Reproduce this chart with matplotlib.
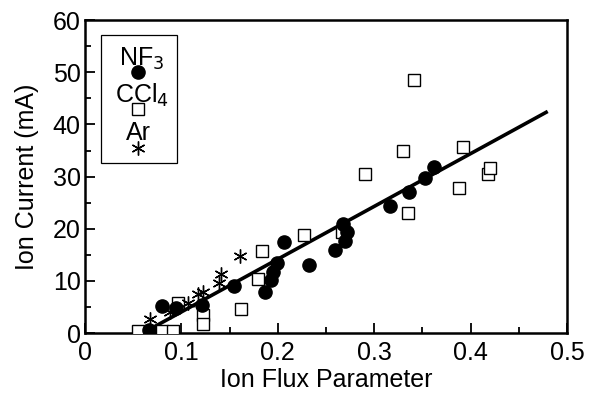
import numpy as np
import matplotlib
matplotlib.use("Agg")
from matplotlib import pyplot as plt
from matplotlib.patches import Rectangle
from matplotlib.ticker import MultipleLocator, FuncFormatter

# NF3 ion current vs ion flux parameter
nf3_x = [0.066, 0.080, 0.094, 0.121, 0.155, 0.187, 0.193, 0.195, 0.199, 0.206,
         0.232, 0.259, 0.268, 0.272, 0.270, 0.316, 0.336, 0.353, 0.362]
nf3_y = [0.5, 5.2, 4.8, 5.4, 9.1, 7.9, 10.1, 11.8, 13.4, 17.5,
         13.1, 15.9, 21.0, 19.3, 17.6, 24.3, 27.0, 29.8, 31.9]

# CCl4
ccl4_x = [0.055, 0.080, 0.091, 0.096, 0.122, 0.122, 0.162, 0.180, 0.184, 0.227,
          0.267, 0.290, 0.330, 0.335, 0.341, 0.388, 0.392, 0.418, 0.420]
ccl4_y = [0.3, 0.3, 0.3, 5.8, 3.4, 1.8, 4.7, 10.3, 15.8, 18.8,
          19.3, 30.5, 34.9, 23.0, 48.6, 27.8, 35.6, 30.5, 31.6]

# Ar
ar_x = [0.067, 0.088, 0.107, 0.117, 0.122, 0.139, 0.141, 0.161]
ar_y = [2.6, 4.0, 5.8, 7.4, 7.9, 9.6, 11.4, 14.7]

# linear fit through all gases
fit_x = [0.06, 0.48]
fit_y = [0.0, 42.5]

FS = 18
plt.rcParams['font.family'] = ['Liberation Sans', 'DejaVu Sans']
plt.rcParams['font.size'] = FS

fig = plt.figure(figsize=(5.9, 3.96), dpi=100)
ax = fig.add_axes([0.144, 0.159, 0.817, 0.790])

asterisk = (6, 2, 0)
sq = dict(marker='s', ls='none', ms=8.3, mfc='white', mec='black', mew=1.0)
st = dict(marker=asterisk, ls='none', ms=10, mec='black', mew=1.0)
dot = dict(marker='o', ls='none', ms=9.5, color='black')

ax.plot(fit_x, fit_y, color='black', lw=2.6, solid_capstyle='butt', zorder=2)
ax.plot(ccl4_x, ccl4_y, zorder=3, **sq)
ax.plot(ar_x, ar_y, zorder=3, **st)
ax.plot(nf3_x, nf3_y, zorder=4, **dot)

# legend box with labels stacked above their markers
ax.add_patch(Rectangle((0.033, 0.543), 0.158, 0.409, transform=ax.transAxes,
                       fill=False, lw=0.9, ec='black', zorder=5))
lx = 0.11
ax.text(lx + 0.008, 0.875, 'NF$_3$', transform=ax.transAxes, ha='center', va='center')
ax.plot([lx], [0.835], transform=ax.transAxes, clip_on=False, **dot)
ax.text(lx + 0.008, 0.76, 'CCl$_4$', transform=ax.transAxes, ha='center', va='center')
ax.plot([lx], [0.715], transform=ax.transAxes, clip_on=False, **sq)
ax.text(lx, 0.64, 'Ar', transform=ax.transAxes, ha='center', va='center')
ax.plot([lx], [0.59], transform=ax.transAxes, clip_on=False, **st)

ax.set_xlim(0, 0.5)
ax.set_ylim(0, 60)
ax.xaxis.set_major_locator(MultipleLocator(0.1))
ax.xaxis.set_minor_locator(MultipleLocator(0.05))
ax.yaxis.set_major_locator(MultipleLocator(10))
ax.yaxis.set_minor_locator(MultipleLocator(5))
ax.xaxis.set_major_formatter(FuncFormatter(lambda v, p: '0' if abs(v) < 1e-9 else '%.1f' % v))
ax.tick_params(which='both', direction='in', width=1.3)
ax.tick_params(which='major', length=7, labelsize=FS)
ax.tick_params(axis='x', pad=6)
ax.tick_params(axis='y', pad=3)
ax.tick_params(which='minor', length=4)
for s in ax.spines.values():
    s.set_linewidth(1.8)

ax.set_xlabel('Ion Flux Parameter', fontsize=FS, labelpad=2)
ax.set_ylabel('Ion Current (mA)', fontsize=FS, labelpad=10)

plt.savefig('out.png', dpi=100)
